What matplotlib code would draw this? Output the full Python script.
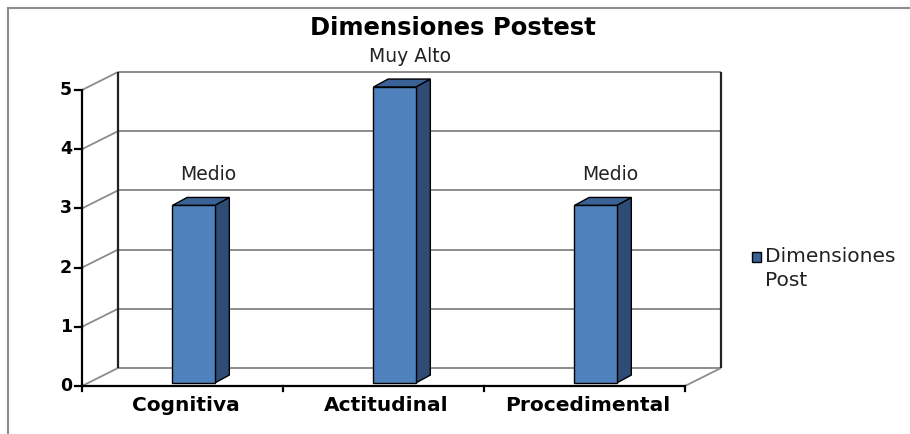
import matplotlib
matplotlib.use("Agg")
import matplotlib.pyplot as plt
from matplotlib.patches import Polygon, Rectangle
from matplotlib.lines import Line2D

# ---- data ----
categories = ["Cognitiva", "Actitudinal", "Procedimental"]
values = [3, 5, 3]
value_labels = ["Medio", "Muy Alto", "Medio"]
y_ticks = [0, 1, 2, 3, 4, 5]
title = "Dimensiones Postest"
legend_label = "Dimensiones\nPost"

# ---- style ----
W, H = 910, 434
fig = plt.figure(figsize=(W / 100, H / 100), dpi=100)
fig.patch.set_facecolor("white")

ax = fig.add_axes([82 / W, 48 / H, 603 / W, 296 / H])
ax.set_xlim(0, len(categories))
ax.set_ylim(0, max(y_ticks))
ax.axis("off")

DX, DY = 0.179, 0.304          # depth offset of back wall (data units)
GRID = "#8c8c8c"
FRONT = "#4f81bd"
SIDE = "#2e4c75"
TOP = "#3a6296"
ncat = len(categories)
ymax = max(y_ticks)

def L(xs, ys, color, lw=1.3, z=1):
    ax.add_line(Line2D(xs, ys, color=color, lw=lw, zorder=z, clip_on=False,
                       solid_capstyle="butt"))

# back wall gridlines and side-wall diagonals
for t in y_ticks:
    L([DX, ncat + DX], [t + DY, t + DY], GRID, 1.4)
    L([0, DX], [t, t + DY], GRID, 1.3)
L([ncat, ncat + DX], [0, DY], GRID, 1.3)
# back wall verticals
L([DX, DX], [DY, ymax + DY], "#222222", 1.6)
L([ncat + DX, ncat + DX], [DY, ymax + DY], "#222222", 1.6)
# front axes
L([0, 0], [0, ymax], "black", 1.6, 3)
L([0, ncat], [0, 0], "black", 1.6, 3)

# y ticks and labels
for t in y_ticks:
    ax.add_line(Line2D([-0.035, 0], [t, t], color="black", lw=1.6, clip_on=False, zorder=3))
    ax.text(-0.05, t, str(t), ha="right", va="center", fontsize=12.5,
            fontweight="bold", family="DejaVu Sans")
# x ticks
for i in range(ncat + 1):
    ax.add_line(Line2D([i, i], [0, -0.09], color="black", lw=1.6, clip_on=False, zorder=3))

# bars
FX = 0.45       # bar front-face left within category
BW = 0.21       # bar front width
BZ = 0.05       # front face lift
BDX, BDY = 0.073, 0.135   # bar depth
for i, (v, lab) in enumerate(zip(values, value_labels)):
    x0 = i + FX
    x1 = x0 + BW
    y0 = BZ
    y1 = v + BZ
    ax.add_patch(Polygon([(x1, y0), (x1 + BDX, y0 + BDY), (x1 + BDX, y1 + BDY), (x1, y1)],
                         closed=True, facecolor=SIDE, edgecolor="black", lw=1.0,
                         zorder=4, clip_on=False))
    ax.add_patch(Polygon([(x0, y1), (x1, y1), (x1 + BDX, y1 + BDY), (x0 + BDX, y1 + BDY)],
                         closed=True, facecolor=TOP, edgecolor="black", lw=1.0,
                         zorder=4, clip_on=False))
    ax.add_patch(Rectangle((x0, y0), BW, v, facecolor=FRONT, edgecolor="black",
                           lw=1.0, zorder=5, clip_on=False))
    ax.text(i + 0.63, v + 0.57, lab, ha="center", va="center", fontsize=13.5,
            family="DejaVu Sans", color="#222222", zorder=6)

# category labels
for i, c in enumerate(categories):
    ax.text(i + 0.515, -0.33, c, ha="center", va="center", fontsize=14.5,
            fontweight="bold", family="DejaVu Sans")

# title
fig.text(453 / W, 1 - 28 / H, title, ha="center", va="center", fontsize=17.5,
         fontweight="bold", family="DejaVu Sans")

# legend
fig.patches.append(Rectangle((752 / W, 1 - 262 / H), 9 / W, 10 / H,
                             transform=fig.transFigure, facecolor="#3a6296",
                             edgecolor="black", lw=1.0, figure=fig))
lines = legend_label.split("\n")
fig.text(765 / W, 1 - 257 / H, lines[0], ha="left", va="center",
         fontsize=14.5, family="DejaVu Sans", color="#222222")
fig.text(765 / W, 1 - 280 / H, lines[1], ha="left", va="center",
         fontsize=14.5, family="DejaVu Sans", color="#222222")

# outer border (left and top)
fig.add_artist(Line2D([8 / W, 8 / W], [0, 1 - 8 / H], transform=fig.transFigure,
                      color="#8c8c8c", lw=1.5))
fig.add_artist(Line2D([8 / W, 1], [1 - 8 / H, 1 - 8 / H], transform=fig.transFigure,
                      color="#8c8c8c", lw=1.5))

fig.savefig("out.png", dpi=100)
